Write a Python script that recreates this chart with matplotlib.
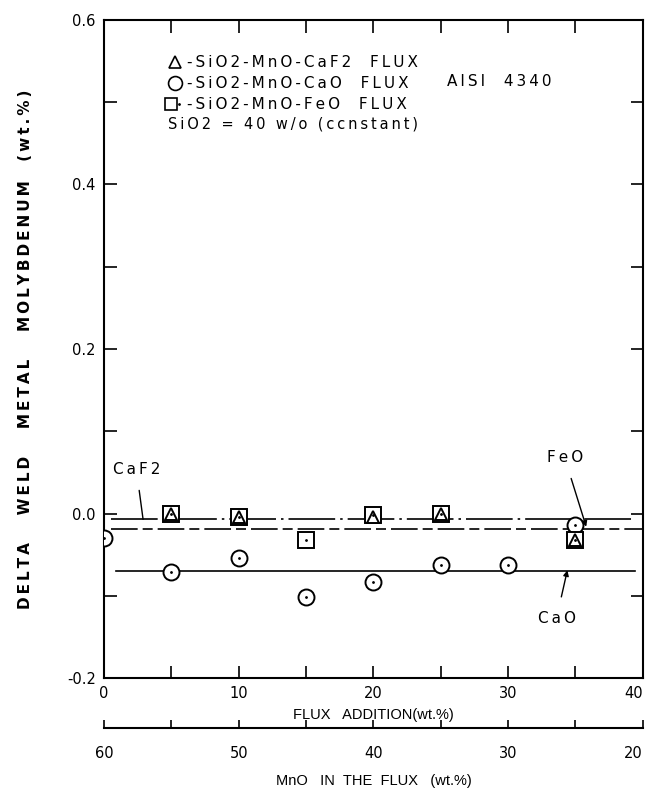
import matplotlib
matplotlib.use('Agg')
import matplotlib.pyplot as plt
from matplotlib.ticker import MultipleLocator
from matplotlib.lines import Line2D
from matplotlib.legend_handler import HandlerTuple

plt.rcParams['font.family'] = ['DejaVu Sans']

# Datos
x_caf2 = [5, 10, 20, 25, 35]
y_caf2 = [0.0, -0.004, -0.004, 0.0, -0.032]

x_cao = [0, 5, 10, 15, 20, 25, 30, 35]
y_cao = [-0.030, -0.071, -0.054, -0.102, -0.083, -0.063, -0.063, -0.014]

x_feo = [5, 10, 15, 20, 25, 35]
y_feo = [0.0, -0.004, -0.032, -0.002, 0.0, -0.032]

# Rectas de ajuste (extremos)
fit_caf2_x = [0.5, 39.3]
fit_caf2_y = [-0.007, -0.007]
fit_feo_x = [0.5, 40.0]
fit_feo_y = [-0.019, -0.019]
fit_cao_x = [0.9, 39.4]
fit_cao_y = [-0.070, -0.070]

# Ejes
flux_ticks = [0, 10, 20, 30, 40]
flux_minor = [5, 15, 25, 35]
mno_ticks = [60, 50, 40, 30, 20]
mno_minor = [55, 45, 35, 25]

leyenda = ['-SiO2-MnO-CaF2  FLUX', '-SiO2-MnO-CaO  FLUX', '-SiO2-MnO-FeO  FLUX']


def ancho(s):
    # texto con letras separadas (espacio fino entre caracteres)
    return '\u2009'.join(s)


def alinear_derecha(axis, ticks, valor):
    # el orden de los ticks sigue al de la lista dada a set_xticks
    i = ticks.index(valor)
    axis.get_major_ticks(len(ticks))[i].label1.set_horizontalalignment('right')


fig = plt.figure(figsize=(6.46, 7.94), dpi=100)
ax = fig.add_axes([0.161, 0.146, 0.834, 0.829])

# Rectas
ax.plot(fit_caf2_x, fit_caf2_y, color='black', lw=1.2,
        linestyle=(0, (28, 3, 1.5, 3)), zorder=2)
ax.plot(fit_feo_x, fit_feo_y, color='black', lw=1.2,
        linestyle=(0, (16, 3, 6, 3)), zorder=2)
ax.plot(fit_cao_x, fit_cao_y, color='black', lw=1.2, zorder=2)

# Puntos
ax.plot(x_cao, y_cao, 'o', ms=11.5, mfc='white', mec='black', mew=1.4, zorder=3)
ax.plot(x_cao, y_cao, '.', ms=2, color='black', zorder=6)
ax.plot(x_feo, y_feo, 's', ms=11, mfc='white', mec='black', mew=1.4, zorder=4)
ax.plot(x_feo, y_feo, '.', ms=2, color='black', zorder=6)
ax.plot(x_caf2, y_caf2, '^', ms=8.5, mfc='white', mec='black', mew=1.4, zorder=5)

ax.set_xlim(0, 40)
ax.set_ylim(-0.2, 0.6)

ax.set_xticks(flux_ticks)
ax.set_xticks(flux_minor, minor=True)
ax.yaxis.set_major_locator(MultipleLocator(0.2))
ax.yaxis.set_minor_locator(MultipleLocator(0.1))
ax.yaxis.set_major_formatter(plt.FuncFormatter(lambda v, p: f'{v:.1f}'))

ax.tick_params(which='both', direction='in', top=True, right=True,
               length=9, width=1.2, labelsize=10.5)
ax.tick_params(axis='x', pad=6)
ax.tick_params(axis='y', pad=6)
for s in ax.spines.values():
    s.set_linewidth(1.5)
alinear_derecha(ax.xaxis, flux_ticks, 40)

ax.set_xlabel('FLUX   ADDITION(wt.%)', fontsize=10.5, labelpad=5,
              family='Liberation Sans')
ax.set_ylabel(ancho('DELTA   WELD   METAL   MOLYBDENUM  (wt.%)'), fontsize=11,
              fontweight='bold', labelpad=24)

# Eje secundario: MnO en el fundente
sec = ax.secondary_xaxis(-0.076, functions=(lambda v: 60 - v, lambda v: 60 - v))
sec.set_xticks(mno_ticks)
sec.set_xticks(mno_minor, minor=True)
sec.tick_params(which='both', direction='in', length=6, width=1.2,
                labelsize=10.5, pad=13)
for s in sec.spines.values():
    s.set_linewidth(1.5)
alinear_derecha(sec.xaxis, mno_ticks, 20)
sec.set_xlabel('MnO   IN  THE  FLUX   (wt.%)', fontsize=10.5, labelpad=9,
               family='Liberation Sans')

# Leyenda
h_tri = Line2D([], [], ls='none', marker='^', ms=9, mfc='white', mec='black', mew=1.2)
h_cir = Line2D([], [], ls='none', marker='o', ms=10, mfc='white', mec='black', mew=1.2)
h_sq = Line2D([], [], ls='none', marker='s', ms=9, mfc='white', mec='black', mew=1.2)
h_dot = Line2D([], [], ls='none', marker='.', ms=2, color='black')
leg = ax.legend([h_tri, h_cir, (h_sq, h_dot)], [ancho(t) for t in leyenda],
                handler_map={tuple: HandlerTuple(ndivide=None, pad=0)},
                loc='upper left', bbox_to_anchor=(0.118, 0.946), frameon=False,
                fontsize=11, borderpad=0, borderaxespad=0, handlelength=1.0,
                handletextpad=0.3, labelspacing=0.39)
ax.text(25.5, 0.525, ancho('AISI  4340'), fontsize=11, va='center', ha='left')
ax.text(4.75, 0.473, ancho('SiO2 = 40 w/o (ccnstant)'), fontsize=10.5,
        va='center', ha='left')

# Rótulos con flechas
ax.annotate(ancho('CaF2'), xy=(2.9, -0.007), xytext=(2.4, 0.054), fontsize=11,
            ha='center', va='center',
            arrowprops=dict(arrowstyle='-', lw=1.0, color='black', shrinkA=8, shrinkB=0))
ax.annotate(ancho('FeO'), xy=(35.8, -0.016), xytext=(34.2, 0.068), fontsize=11,
            ha='center', va='center',
            arrowprops=dict(arrowstyle='-|>', lw=1.0, color='black',
                            mutation_scale=8, shrinkA=8, shrinkB=0))
ax.annotate(ancho('CaO'), xy=(34.4, -0.069), xytext=(33.6, -0.127), fontsize=11,
            ha='center', va='center',
            arrowprops=dict(arrowstyle='-|>', lw=1.0, color='black',
                            mutation_scale=8, shrinkA=8, shrinkB=0))

fig.savefig('out.png', dpi=100)
